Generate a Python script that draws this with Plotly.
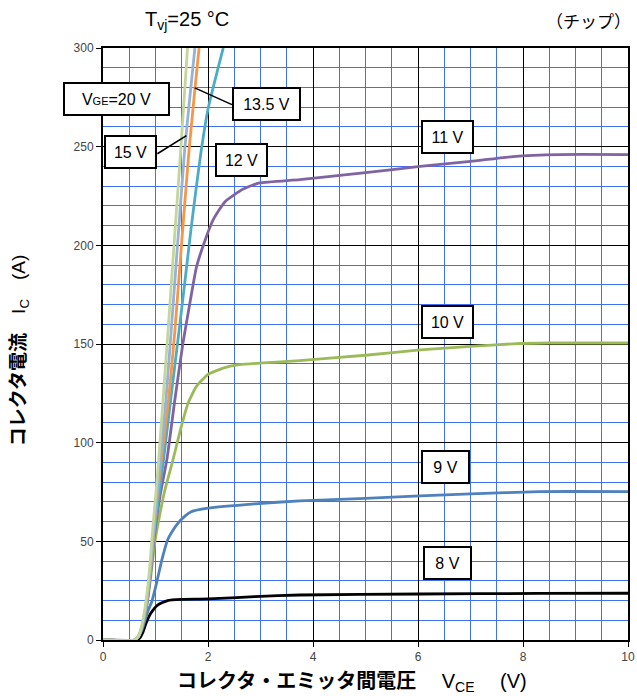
import plotly.graph_objects as go

# ---- data ----
vce_8 = [0, 0.62, 0.70, 0.76, 0.82, 0.91, 1.04, 1.23, 1.49, 2.0, 2.89, 3.75, 6.04, 8.3, 10]
ic_8 = [0, 0, 1, 4, 8.5, 13.5, 17.7, 20, 20.6, 20.8, 22, 22.8, 23.3, 23.6, 23.7]

vce_9 = [0, 0.60, 0.68, 0.74, 0.80, 0.86, 0.93, 1.03, 1.12, 1.23, 1.33, 1.43, 1.55, 1.68, 2.0, 2.89, 3.75, 5.0, 6.04, 7.0, 8.32, 10]
ic_9 = [0, 0, 2, 5, 10, 15, 19.5, 30, 40.5, 50.7, 55.5, 59.2, 62.5, 65, 66.8, 69, 70.5, 71.8, 73, 74, 75.2, 75.2]

vce_10 = [0, 0.60, 0.68, 0.78, 0.85, 0.90, 0.945, 0.99, 1.07, 1.17, 1.33, 1.49, 1.62, 1.78, 1.99, 2.29, 2.60, 2.98, 3.75, 5.0, 6.04, 7.0, 7.81, 8.5, 10]
ic_10 = [0, 0, 2, 10, 20, 30, 40, 50, 62, 75, 91, 108, 120, 128.5, 134.4, 137.8, 139.5, 140.3, 141.6, 144.3, 147, 148.8, 150.1, 150.5, 150.5]

vce_11 = [0, 0.60, 0.68, 0.78, 0.845, 0.89, 0.93, 0.97, 1.08, 1.22, 1.37, 1.52, 1.65, 1.78, 1.95, 2.10, 2.32, 2.67, 2.98, 3.75, 5.0, 6.04, 7.0, 7.81, 8.7, 10]
ic_11 = [0, 0, 2, 10, 20, 30, 40, 51, 72, 92, 122, 150, 170, 189, 203, 213, 222, 228.5, 231.6, 233.3, 236.8, 240, 242.5, 245, 246, 246]

vce_12 = [0, 0.60, 0.68, 0.775, 0.84, 0.885, 0.925, 0.96, 1.06, 1.16, 1.29, 1.45, 1.575, 1.675, 1.77, 1.87, 2.0, 2.29]
ic_12 = [0, 0, 2, 10, 20, 30, 40, 51, 72, 93, 122, 157, 185, 208, 228, 248, 269, 300]

vce_135 = [0, 0.60, 0.68, 0.77, 0.835, 0.88, 0.92, 0.955, 1.03, 1.11, 1.25, 1.37, 1.50, 1.64, 1.75, 1.83]
ic_135 = [0, 0, 2, 10, 20, 30, 40, 51, 72, 91, 122, 157, 202, 248.5, 279, 300]

vce_15 = [0, 0.60, 0.68, 0.77, 0.83, 0.875, 0.915, 0.95, 1.025, 1.09, 1.20, 1.30, 1.43, 1.556, 1.65, 1.75]
ic_15 = [0, 0, 2, 10, 20, 30, 40, 51, 72, 91, 122, 157, 204, 248.5, 274, 300]

vce_20 = [0, 0.60, 0.68, 0.76, 0.82, 0.865, 0.90, 0.93, 1.00, 1.06, 1.15, 1.24, 1.36, 1.48, 1.61]
ic_20 = [0, 0, 2, 10, 20, 30, 40, 51, 72, 91, 124, 157, 203, 248, 300]

series = [
    ("8 V", vce_8, ic_8, "#000000"),
    ("9 V", vce_9, ic_9, "#4F81BD"),
    ("10 V", vce_10, ic_10, "#9BBB59"),
    ("11 V", vce_11, ic_11, "#8064A2"),
    ("12 V", vce_12, ic_12, "#4BACC6"),
    ("13.5 V", vce_135, ic_135, "#F79646"),
    ("15 V", vce_15, ic_15, "#95B3D7"),
    ("20 V", vce_20, ic_20, "#C3D69B"),
]

x_ticks = [0, 2, 4, 6, 8, 10]
y_ticks = [0, 50, 100, 150, 200, 250, 300]

# label boxes: text, x (V), y (A), width px
labels = [
    ("V<span style='font-size:11px'>GE</span>=20 V", 0.26, 274.3, 103),
    ("13.5 V", 3.11, 271.8, 65),
    ("15 V", 0.53, 247.1, 49),
    ("12 V", 2.64, 243.4, 49),
    ("11 V", 6.57, 254.8, 49),
    ("10 V", 6.57, 161.3, 49),
    ("9 V", 6.53, 87.5, 45),
    ("8 V", 6.56, 39.2, 45),
]
leaders = [
    (2.456, 271.3, 1.747, 279.8),
    (1.036, 246.4, 1.589, 255.6),
]

LATIN = "Liberation Sans, Arial, Noto Sans CJK JP, sans-serif"
BLUE = "#4070F5"

fig = go.Figure()
for name, xs, ys, col in series:
    fig.add_trace(go.Scatter(
        x=xs, y=ys, mode="lines", name=name,
        line=dict(color=col, width=2.8, shape="spline", smoothing=0.5),
        showlegend=False, hoverinfo="skip", cliponaxis=True,
    ))

for text, x, y, w in labels:
    fig.add_annotation(
        x=x, y=y, xref="x", yref="y", text=text, showarrow=False,
        font=dict(family=LATIN, size=16, color="#000"),
        bgcolor="white", bordercolor="black", borderwidth=2, borderpad=0,
        width=w, height=30, align="center", valign="middle",
    )

for x0, y0, x1, y1 in leaders:
    fig.add_shape(type="line", xref="x", yref="y", x0=x0, y0=y0, x1=x1, y1=y1,
                  line=dict(color="black", width=1.6))

fig.add_annotation(
    x=0.076, y=1.047, xref="paper", yref="paper", xanchor="left", yanchor="middle",
    text="T<sub>vj</sub>=25 °C", showarrow=False,
    font=dict(family=LATIN, size=20, color="#000"),
)
fig.add_annotation(
    x=1.0, y=1.047, xref="paper", yref="paper", xanchor="right", yanchor="middle",
    text="（チップ）", showarrow=False, xshift=5,
    font=dict(family="Noto Sans CJK JP", size=17, color="#000"),
)
# axis titles
fig.add_annotation(
    x=0.475, y=-0.0726, xref="paper", yref="paper", xanchor="center", yanchor="middle",
    text="<b>コレクタ・エミッタ間電圧</b>　 V<sub>CE</sub>　 (V)", showarrow=False,
    font=dict(family=LATIN, size=20, color="#000"),
)
fig.add_annotation(
    x=-0.158, y=0.488, xref="paper", yref="paper", xanchor="center", yanchor="middle",
    text="<b>コレクタ電流</b>　I<sub>C</sub>　(A)", showarrow=False, textangle=-90,
    font=dict(family=LATIN, size=19, color="#000"),
)

fig.update_layout(
    width=637, height=696,
    margin=dict(l=103, r=9, t=48, b=56, autoexpand=False),
    paper_bgcolor="white", plot_bgcolor="white",
    font=dict(family=LATIN, color="#000"),
    xaxis=dict(
        range=[0, 10], tickvals=x_ticks, ticks="outside", ticklen=5, tickcolor="black",
        tickfont=dict(family=LATIN, size=12, color="#444"),
        showgrid=True, gridcolor="#000000", gridwidth=1,
        minor=dict(dtick=0.5, showgrid=True, gridcolor=BLUE, gridwidth=1, ticks=""),
        showline=True, linecolor="black", linewidth=2, mirror=True, zeroline=False,
        automargin=False,
    ),
    yaxis=dict(
        range=[0, 300], tickvals=y_ticks, ticks="outside", ticklen=5, tickcolor="black",
        tickfont=dict(family=LATIN, size=12, color="#444"),
        showgrid=True, gridcolor="#000000", gridwidth=1,
        minor=dict(dtick=10, showgrid=True, gridcolor=BLUE, gridwidth=1, ticks=""),
        showline=True, linecolor="black", linewidth=2, mirror=True, zeroline=False,
        automargin=False,
    ),
)

# remove the default 8px page margin so the 637x696 figure fills the window exactly
fig.write_html(
    "out.html",
    config={"displayModeBar": False},
    post_script="document.body.style.margin='0';document.body.style.overflow='hidden';",
)
